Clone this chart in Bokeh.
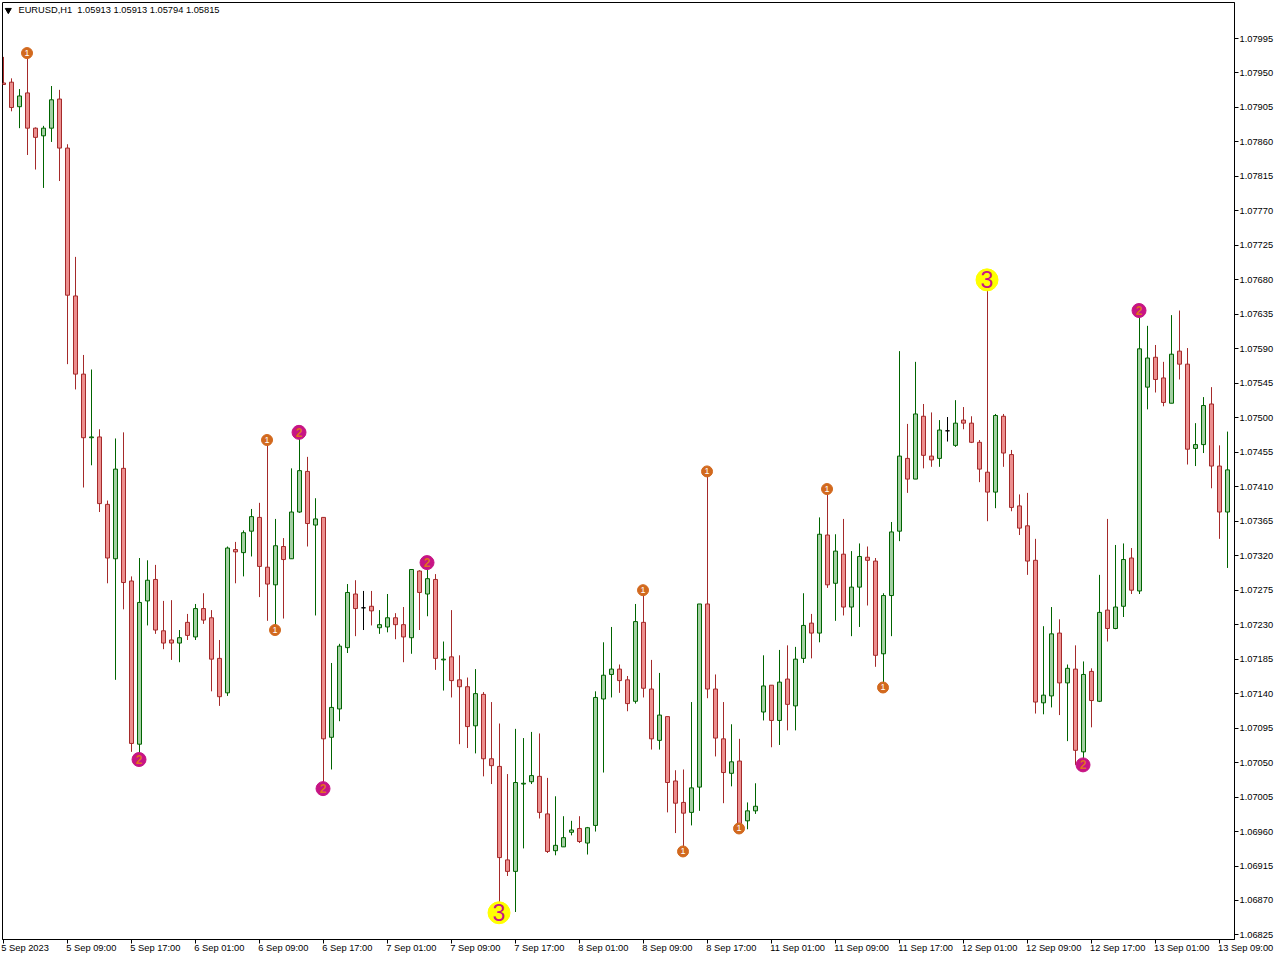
from bokeh.plotting import figure
from bokeh.models import ColumnDataSource, FixedTicker, LinearAxis, Label, Range1d
from bokeh.core.properties import value
from bokeh.transform import dodge
from bokeh.embed import file_html
from bokeh.resources import INLINE

opens = [
 1.07937,1.07938,1.07906,1.07924,1.07878,1.07868,1.07878,1.07916,1.07852,1.07659,
 1.07557,1.07474,1.07475,1.07387,1.07316,1.07434,1.07287,1.07074,1.07261,1.07289,
 1.07222,1.07210,1.07206,1.07233,1.07214,1.07251,1.07239,1.07186,1.07141,1.07328,
 1.07324,1.07352,1.07370,1.07305,1.07282,1.07332,1.07316,1.07377,1.07430,1.07360,
 1.07370,1.07083,1.07120,1.07200,1.07270,1.07252,1.07254,1.07226,1.07227,1.07239,
 1.07230,1.07213,1.07300,1.07270,1.07289,1.07184,1.07188,1.07158,1.07149,1.07098,
 1.07139,1.07055,1.07045,1.06923,1.06908,1.07022,1.07025,1.07032,1.06983,1.06935,
 1.06940,1.06959,1.06964,1.06945,1.06968,1.07133,1.07165,1.07172,1.07158,1.07130,
 1.07233,1.07146,1.07079,1.07110,1.07026,1.06998,1.06985,1.07018,1.07257,1.07146,
 1.07081,1.07036,1.07052,1.06974,1.06987,1.07116,1.07151,1.07105,1.07159,1.07124,
 1.07186,1.07232,1.07219,1.07347,1.07284,1.07322,1.07253,1.07279,1.07318,1.07313,
 1.07192,1.07268,1.07352,1.07447,1.07420,1.07502,1.07450,1.07447,1.07483,1.07464,
 1.07497,1.07493,1.07468,1.07429,1.07403,1.07502,1.07452,1.07385,1.07359,1.07314,
 1.07128,1.07137,1.07219,1.07154,1.07172,1.07064,1.07169,1.07130,1.07249,1.07225,
 1.07254,1.07317,1.07274,1.07540,1.07579,1.07552,1.07519,1.07587,1.07570,1.07460,
 1.07465,1.07518,1.07437,1.07377,
]
highs = [
 1.07971,1.07943,1.07929,1.07976,1.07879,1.07881,1.07933,1.07928,1.07857,1.07710,
 1.07582,1.07563,1.07485,1.07392,1.07473,1.07481,1.07293,1.07317,1.07314,1.07308,
 1.07261,1.07262,1.07223,1.07244,1.07257,1.07271,1.07249,1.07210,1.07332,1.07338,
 1.07353,1.07381,1.07389,1.07471,1.07368,1.07343,1.07434,1.07481,1.07449,1.07395,
 1.07370,1.07180,1.07205,1.07283,1.07288,1.07274,1.07274,1.07249,1.07270,1.07245,
 1.07253,1.07302,1.07301,1.07311,1.07296,1.07208,1.07249,1.07190,1.07161,1.07172,
 1.07142,1.07129,1.07101,1.07035,1.07094,1.07082,1.07090,1.07088,1.07030,1.07006,
 1.06980,1.06974,1.06980,1.06966,1.07143,1.07207,1.07227,1.07178,1.07163,1.07257,
 1.07275,1.07184,1.07167,1.07110,1.07040,1.07041,1.07129,1.07257,1.07430,1.07165,
 1.07129,1.07100,1.07081,1.06998,1.07023,1.07190,1.07151,1.07197,1.07203,1.07201,
 1.07271,1.07244,1.07370,1.07407,1.07348,1.07368,1.07326,1.07336,1.07332,1.07317,
 1.07271,1.07364,1.07587,1.07492,1.07573,1.07518,1.07507,1.07497,1.07501,1.07523,
 1.07514,1.07502,1.07471,1.07681,1.07505,1.07505,1.07458,1.07400,1.07402,1.07342,
 1.07228,1.07253,1.07237,1.07178,1.07203,1.07182,1.07173,1.07295,1.07368,1.07334,
 1.07336,1.07330,1.07640,1.07620,1.07595,1.07573,1.07634,1.07640,1.07591,1.07493,
 1.07527,1.07540,1.07464,1.07482,
]
lows = [
 1.07935,1.07900,1.07878,1.07843,1.07824,1.07800,1.07860,1.07809,1.07570,1.07537,
 1.07409,1.07438,1.07377,1.07284,1.07158,1.07250,1.07064,1.07054,1.07229,1.07218,
 1.07198,1.07184,1.07181,1.07210,1.07210,1.07231,1.07143,1.07124,1.07137,1.07284,
 1.07293,1.07319,1.07266,1.07235,1.07223,1.07238,1.07316,1.07376,1.07332,1.07242,
 1.07017,1.07041,1.07104,1.07193,1.07215,1.07223,1.07229,1.07218,1.07220,1.07211,
 1.07181,1.07192,1.07223,1.07241,1.07171,1.07144,1.07135,1.07074,1.07069,1.07062,
 1.07032,1.07022,1.06855,1.06902,1.06855,1.06938,1.07022,1.06977,1.06932,1.06929,
 1.06940,1.06955,1.06945,1.06930,1.06960,1.07037,1.07135,1.07141,1.07117,1.07127,
 1.07135,1.07067,1.07067,1.06985,1.06958,1.06934,1.06968,1.06987,1.07134,1.07058,
 1.06997,1.07019,1.06964,1.06963,1.06983,1.07105,1.07070,1.07073,1.07092,1.07092,
 1.07180,1.07186,1.07207,1.07278,1.07235,1.07242,1.07215,1.07227,1.07255,1.07175,
 1.07148,1.07215,1.07339,1.07402,1.07420,1.07434,1.07436,1.07436,1.07469,1.07462,
 1.07485,1.07467,1.07416,1.07365,1.07382,1.07436,1.07378,1.07347,1.07295,1.07114,
 1.07113,1.07122,1.07112,1.07078,1.07047,1.07047,1.07096,1.07129,1.07208,1.07224,
 1.07240,1.07270,1.07270,1.07511,1.07533,1.07515,1.07519,1.07550,1.07439,1.07437,
 1.07454,1.07408,1.07342,1.07304,
]
closes = [
 1.07935,1.07905,1.07920,1.07878,1.07866,1.07878,1.07915,1.07852,1.07660,1.07557,
 1.07474,1.07475,1.07388,1.07317,1.07433,1.07285,1.07075,1.07259,1.07288,1.07223,
 1.07206,1.07206,1.07213,1.07216,1.07251,1.07236,1.07185,1.07136,1.07330,1.07325,
 1.07350,1.07371,1.07306,1.07283,1.07333,1.07315,1.07377,1.07431,1.07362,1.07368,
 1.07081,1.07122,1.07202,1.07272,1.07251,1.07252,1.07248,1.07230,1.07239,1.07230,
 1.07214,1.07302,1.07272,1.07290,1.07186,1.07185,1.07157,1.07149,1.07097,1.07140,
 1.07055,1.07046,1.06926,1.06908,1.07024,1.07023,1.07033,1.06985,1.06934,1.06942,
 1.06952,1.06962,1.06947,1.06965,1.07135,1.07164,1.07172,1.07157,1.07127,1.07234,
 1.07147,1.07081,1.07112,1.07024,1.06997,1.06984,1.07017,1.07257,1.07146,1.07082,
 1.07037,1.07051,1.06968,1.06987,1.06993,1.07150,1.07105,1.07155,1.07126,1.07185,
 1.07229,1.07219,1.07348,1.07282,1.07326,1.07253,1.07279,1.07319,1.07314,1.07190,
 1.07268,1.07351,1.07450,1.07420,1.07505,1.07451,1.07445,1.07484,1.07483,1.07493,
 1.07493,1.07468,1.07433,1.07403,1.07503,1.07454,1.07383,1.07356,1.07313,1.07129,
 1.07138,1.07218,1.07154,1.07173,1.07066,1.07165,1.07131,1.07246,1.07225,1.07253,
 1.07315,1.07275,1.07590,1.07578,1.07550,1.07520,1.07583,1.07570,1.07459,1.07465,
 1.07516,1.07437,1.07377,1.07432,
]

y_ticks = [1.07995,1.07950,1.07905,1.07860,1.07815,1.07770,1.07725,1.07680,1.07635,
           1.07590,1.07545,1.07500,1.07455,1.07410,1.07365,1.07320,1.07275,1.07230,
           1.07185,1.07140,1.07095,1.07050,1.07005,1.06960,1.06915,1.06870,1.06825]
x_labels = ["5 Sep 2023","5 Sep 09:00","5 Sep 17:00","6 Sep 01:00","6 Sep 09:00","6 Sep 17:00",
            "7 Sep 01:00","7 Sep 09:00","7 Sep 17:00","8 Sep 01:00","8 Sep 09:00","8 Sep 17:00",
            "11 Sep 01:00","11 Sep 09:00","11 Sep 17:00","12 Sep 01:00","12 Sep 09:00",
            "12 Sep 17:00","13 Sep 01:00","13 Sep 09:00"]
x_tick_bars = list(range(0, 160, 8))

level1_bar = [3, 33, 34, 80, 85, 88, 92, 103, 110]
level1_price = [1.07976, 1.07471, 1.07223, 1.07275, 1.06934, 1.07430, 1.06964, 1.07407, 1.07148]
level2_bar = [17, 37, 40, 53, 135, 142]
level2_price = [1.07054, 1.07481, 1.07016, 1.07311, 1.07047, 1.07640]
level3_bar = [62, 123]
level3_price = [1.06854, 1.07680]

header = "EURUSD,H1\u00a0\u00a01.05913 1.05913 1.05794 1.05815"

UP_EDGE, UP_FILL = "#006400", "#a3cfa3"
DN_EDGE, DN_FILL = "#a52a2a", "#ec8f8f"
FONT = "Liberation Sans"
FONT_PX = "9.3px"

edge, fill = [], []
for o, c in zip(opens, closes):
    if c > o:
        edge.append(UP_EDGE); fill.append(UP_FILL)
    elif c < o:
        edge.append(DN_EDGE); fill.append(DN_FILL)
    else:
        edge.append("#000000"); fill.append("#000000")

src = ColumnDataSource(dict(
    i=list(range(len(opens))), o=opens, h=highs, l=lows, c=closes, edge=edge, fill=fill))

p = figure(width=1280, height=960, frame_width=1232, frame_height=937,
           min_border_left=2, min_border_top=2, min_border_right=0, min_border_bottom=0,
           x_range=Range1d(-0.125, 153.875), y_range=Range1d(1.068191, 1.080420),
           y_axis_location="right", toolbar_location=None, output_backend="svg",
           background_fill_color="#ffffff", border_fill_color="#ffffff",
           outline_line_color="#000000", outline_line_width=1)
p.styles = {"position": "absolute", "left": "0px", "top": "0px"}
p.grid.visible = False

# price axis
ya = p.yaxis[0]
ya.ticker = FixedTicker(ticks=y_ticks)
ya.major_label_overrides = {t: f"{t:.5f}" for t in y_ticks}
ya.major_tick_out = 4
ya.major_tick_in = 0
ya.minor_tick_out = 0
ya.minor_tick_in = 0
ya.major_tick_line_color = "#000000"
ya.axis_line_color = "#000000"
ya.major_label_standoff = 1
ya.major_label_text_font = FONT
ya.major_label_text_font_size = FONT_PX
ya.major_label_text_color = "#000000"

# time axis: tick marks only
xa = p.xaxis[0]
xa.ticker = FixedTicker(ticks=x_tick_bars)
xa.major_label_overrides = {b: "" for b in x_tick_bars}
xa.major_tick_out = 4
xa.major_tick_in = 0
xa.minor_tick_out = 0
xa.minor_tick_in = 0
xa.major_tick_line_color = "#000000"
xa.axis_line_color = "#000000"
xa.major_label_text_font_size = "1px"
xa.major_label_standoff = 0

# time axis: labels start at their tick marks. An axis centres its labels and drops any
# centred past the frame, so the last label is padded on the left to stay inside it.
label_pos = [round(b + 0.285 * len(t) - 0.15, 3) for b, t in zip(x_tick_bars[:-1], x_labels[:-1])]
label_txt = list(x_labels[:-1])
label_pos.append(153.65)
label_txt.append("\u00a0" * 10 + x_labels[-1])
la = LinearAxis(ticker=FixedTicker(ticks=label_pos),
                major_label_overrides=dict(zip(label_pos, label_txt)),
                major_tick_line_color=None, minor_tick_line_color=None,
                axis_line_color=None, major_tick_out=0, major_tick_in=0,
                minor_tick_out=0, minor_tick_in=0, major_label_standoff=-1,
                major_label_text_font=FONT, major_label_text_font_size=FONT_PX,
                major_label_text_color="#000000")
p.add_layout(la, "below")

p.segment(x0="i", y0="h", x1="i", y1="l", color="edge", line_width=1, source=src)
p.vbar(x="i", width=0.5, top="o", bottom="c", fill_color="fill", line_color="edge",
       line_width=1, source=src)

def badge(bars, prices, label, size, bg, fg, font_size, style):
    s = ColumnDataSource(dict(i=bars, y=prices, t=[label] * len(bars)))
    p.scatter(x=dodge("i", -0.06), y="y", size=size, fill_color=bg, line_color=bg, source=s)
    p.text(x=dodge("i", -0.06), y="y", text="t", text_color=fg, text_align="center",
           text_baseline="middle", text_font=value(FONT), text_font_size=font_size,
           text_font_style=style, source=s)

badge(level1_bar, level1_price, "1", 11, "#d2691e", "#ffffff", "9px", "normal")
badge(level2_bar, level2_price, "2", 14, "#c71585", "#e07020", "12px", "bold")
badge(level3_bar, level3_price, "3", 22, "#ffff00", "#c71585", "23px", "normal")

p.scatter(x=[0.6], y=[1.08032], marker="inverted_triangle", size=6,
          fill_color="#000000", line_color="#000000")
p.add_layout(Label(x=1.87, y=1.08032, text=header, text_font=FONT, text_font_size=FONT_PX,
                   text_baseline="middle", text_align="left", text_color="#000000"))

open("out.html", "w").write(file_html(p, INLINE))
